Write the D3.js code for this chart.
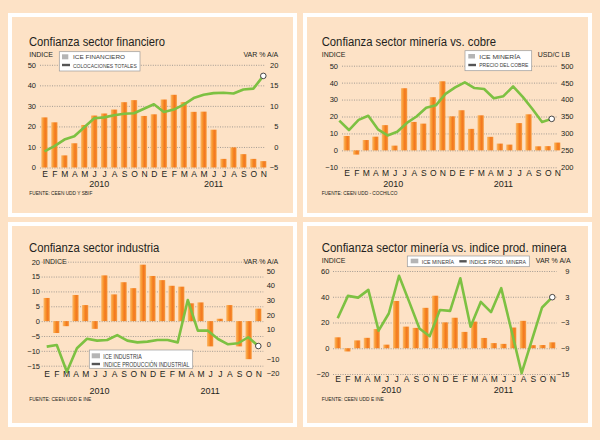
<!DOCTYPE html>
<html>
<head>
<meta charset="utf-8">
<script src="https://cdn.jsdelivr.net/npm/d3@7"></script>
<style>
  body { margin: 0; background: #fde2c6; }
  svg { display: block; font-family: "Liberation Sans", Arial, sans-serif; }
  .grid line { stroke: #7d7d7d; stroke-width: 0.7; stroke-dasharray: 1,1.4; }
  .grid .domain, .eje .domain { display: none; }
  .eje text { font-size: 7.5px; fill: #231f20; }
  .meses text { font-size: 8.5px; fill: #231f20; }
</style>
</head>
<body>
<svg id="chart" width="600" height="440"></svg>
<script>
// meses (ene 2010 - nov 2011)
var meses = ["E","F","M","A","M","J","J","A","S","O","N","D",
             "E","F","M","A","M","J","J","A","S","O","N"];
var anios = ["2010", "2011"];

// sector financiero
var iceFinanciero = [24.4, 22.0, 5.9, 11.8, 20.7, 25.3, 26.3, 28.2, 31.8, 32.8, 25.1, 25.9,
                     33.1, 35.4, 31.8, 27.1, 27.2, 18.4, 4.2, 9.8, 6.5, 4.2, 3.1];
var colocaciones = [-1.1, 0.2, 1.8, 2.6, 4.8, 7.0, 7.2, 7.7, 8.1, 8.2, 9.3, 10.4,
                    8.5, 9.1, 10.3, 11.9, 12.7, 13.1, 13.2, 13.0, 14.0, 14.2, 17.3];

// sector mineria
var iceMineria = [8.5, -2.5, 6.1, 8.1, 14.9, 2.8, 36.7, 16.8, 15.8, 31.4, 40.8, 20.1,
                  23.7, 12.7, 20.7, 8.0, 4.0, 3.4, 16.1, 21.3, 2.4, 2.5, 4.6];
var precioCobre = [338, 310, 340, 352, 312, 294, 305, 331, 350, 376, 383, 417,
                   436, 451, 434, 431, 404, 410, 439, 408, 372, 334, 343];

// sector industria (produccion: ene 2010 - oct 2011)
var iceIndustria = [7.8, -4.0, -1.7, 8.8, 5.4, -2.6, 15.4, 9.0, 13.1, 11.1, 19.0, 15.2,
                    13.8, 11.9, 11.6, 6.0, 6.3, -8.5, 0.8, 5.4, -8.5, -12.8, 4.2];
var prodIndustrial = [-1.8, -0.7, -18.9, -2.9, 3.6, 2.3, 2.7, 6.1, 2.3, 1.1, 1.6,
                      2.7, 2.7, 1.1, 30.0, 9.1, 9.1, 3.4, -0.2, 0.5, 4.6, -1.4];

// produccion minera (ene 2010 - oct 2011)
var prodMinera = [-2.0, 3.2, 2.8, 4.6, -4.9, -0.9, 7.9, 1.8, -4.4, -6.2, -0.1,
                  -0.3, 7.3, -4.0, 1.8, -0.6, 5.0, -4.8, -14.8, -7.1, 0.5, 2.9];

// ticks
var ticksFinIzq = [0, 10, 20, 30, 40, 50];
var ticksFinDer = [-5, 0, 5, 10, 15, 20];
var ticksMinIzq = [-10, 0, 10, 20, 30, 40, 50];
var ticksCobre = [200, 250, 300, 350, 400, 450, 500];
var ticksIndIzq = [-15, -10, -5, 0, 5, 10, 15, 20];
var ticksIndDer = [-20, -10, 0, 10, 20, 30, 40, 50];
var ticksMin2Izq = [-20, 0, 20, 40, 60];
var ticksMin2Der = [-15, -9, -3, 3, 9];


var svg = d3.select("#chart");

// degradado de las barras
var grad = svg.append("defs").append("linearGradient")
  .attr("id", "barra")
  .attr("x1", "0").attr("x2", "1").attr("y1", "0").attr("y2", "0");
[[0, "#fcb86c"], [0.35, "#f8952c"], [0.6, "#f37720"], [0.85, "#f58a2c"], [1, "#fab56c"]]
  .forEach(function(s){
    grad.append("stop").attr("offset", s[0]).attr("stop-color", s[1]);
  });

function panel(c) {
  var g = svg.append("g");

  g.append("rect")
    .attr("x", c.frame[0]).attr("y", c.frame[1])
    .attr("width", c.frame[2]).attr("height", c.frame[3])
    .attr("fill", "#fde2c6").attr("stroke", "#fff").attr("stroke-width", 4);

  g.append("text")
    .attr("x", c.title[0]).attr("y", c.title[1])
    .attr("textLength", c.title[2]).attr("lengthAdjust", "spacingAndGlyphs")
    .style("font-size", "12px").style("fill", "#231f20")
    .text(c.titulo);

  g.append("text")
    .attr("x", c.unidades[3] || c.unidades[0]).attr("y", c.unidades[2])
    .style("font-size", "7px").style("fill", "#231f20")
    .text("INDICE");
  g.append("text")
    .attr("x", c.unidades[1]).attr("y", c.unidades[2])
    .style("font-size", "7px").style("fill", "#231f20")
    .style("text-anchor", "end")
    .text(c.unidadDer);

  var yL = d3.scaleLinear().domain(c.domL).range(c.rangeL);
  var yR = d3.scaleLinear().domain(c.domR).range(c.rangeR || c.rangeL);
  var n = c.barras.length;
  var x = d3.scalePoint().domain(d3.range(n)).range(c.centros);
  var xl = d3.scalePoint().domain(d3.range(c.linea.length)).range(c.rangoLinea || c.centros);

  // grilla
  g.append("g")
    .attr("class", "grid")
    .attr("transform", "translate(" + c.grid[0] + ",0)")
    .call(d3.axisLeft(yL).tickValues(c.ticksL).tickSize(-(c.grid[1] - c.grid[0])).tickFormat(""));

  // ejes
  g.append("g")
    .attr("class", "eje")
    .attr("transform", "translate(" + c.lx + ",0)")
    .call(d3.axisLeft(yL).tickValues(c.ticksL).tickSize(0).tickPadding(0));

  var ejeDer = c.rAnchor === "start" ? d3.axisRight(yR) : d3.axisLeft(yR);
  g.append("g")
    .attr("class", "eje")
    .attr("transform", "translate(" + c.rx + ",0)")
    .call(ejeDer.tickValues(c.ticksR).tickSize(0).tickPadding(0));

  // barras
  var bw = 6.4;
  g.append("g").selectAll("rect")
    .data(c.barras)
    .enter().append("rect")
      .attr("x", function(d, i){ return x(i) - bw / 2; })
      .attr("y", function(d){ return yL(Math.max(0, d)); })
      .attr("width", bw)
      .attr("height", function(d){ return Math.abs(yL(d) - yL(0)); })
      .attr("fill", "url(#barra)");

  // linea
  var line = d3.line()
    .x(function(d, i){ return xl(i); })
    .y(function(d){ return yR(d); });

  g.append("path")
    .datum(c.linea)
    .attr("d", line)
    .attr("fill", "none")
    .attr("stroke", "#7dc142")
    .attr("stroke-width", 2.6)
    .attr("stroke-linejoin", "round");

  var ult = c.linea.length - 1;
  g.append("circle")
    .attr("cx", xl(ult)).attr("cy", yR(c.linea[ult]))
    .attr("r", 2.8)
    .attr("fill", "#fff").attr("stroke", "#333").attr("stroke-width", 0.9);

  // meses
  var ejeX = g.append("g")
    .attr("class", "meses")
    .attr("transform", "translate(0," + c.mesY + ")")
    .call(d3.axisBottom(x).tickSize(0).tickPadding(0).tickFormat(function(i){ return meses[i]; }));
  ejeX.select(".domain").remove();
  ejeX.selectAll("text").attr("y", 0).attr("dy", null);

  // anios
  [[0, 11], [12, n - 1]].forEach(function(r, k){
    g.append("text")
      .attr("x", (x(r[0]) + x(r[1])) / 2 + (c.anioDx || 0))
      .attr("y", c.anioY)
      .style("font-size", "9px").style("fill", "#231f20")
      .style("text-anchor", "middle")
      .text(anios[k]);
  });

  // fuente
  g.append("text")
    .attr("x", c.fuente[0]).attr("y", c.fuente[1])
    .attr("textLength", c.fuente[2]).attr("lengthAdjust", "spacingAndGlyphs")
    .style("font-size", "5.5px").style("fill", "#231f20")
    .text(c.fuenteTxt);

  // leyenda
  var L = c.leyenda;
  g.append("rect")
    .attr("x", L.box[0]).attr("y", L.box[1])
    .attr("width", L.box[2]).attr("height", L.box[3])
    .attr("fill", "#fff").attr("stroke", "#9a9a9a").attr("stroke-width", 0.7);
  g.append("rect")
    .attr("x", L.sq[0]).attr("y", L.sq[1]).attr("width", L.sq[2]).attr("height", L.sq[3])
    .attr("fill", "#b5b5b5");
  g.append("line")
    .attr("x1", L.ln[0]).attr("x2", L.ln[1]).attr("y1", L.ln[2]).attr("y2", L.ln[2])
    .attr("stroke", "#555").attr("stroke-width", 2.4);
  L.txt.forEach(function(t){
    g.append("text")
      .attr("x", t[0]).attr("y", t[1])
      .attr("textLength", t[2]).attr("lengthAdjust", "spacingAndGlyphs")
      .style("font-size", L.fs + "px").style("fill", "#3a3a3a")
      .text(t[3]);
  });
}

panel({
  frame: [10, 15, 285, 200],
  titulo: "Confianza sector financiero", title: [29, 45.7, 136],
  unidadDer: "VAR % A/A", unidades: [29.3, 278.3, 56.7],
  domL: [0, 50], rangeL: [167.5, 64.8], ticksL: ticksFinIzq,
  domR: [-5, 20], ticksR: ticksFinDer,
  grid: [40, 265], lx: 36, rx: 278.3, rAnchor: "end",
  centros: [44.5, 263.3],
  barras: iceFinanciero, linea: colocaciones,
  mesY: 177, anioY: 187.3,
  fuenteTxt: "FUENTE: CEEN UDD Y SBIF", fuente: [29.3, 194.6, 63],
  leyenda: {
    box: [59.3, 51.7, 80.7, 19.3], sq: [62, 54.3, 6.3, 5], ln: [62, 70, 65], fs: 6,
    txt: [[73, 59.2, 52, "ICE FINANCIERO"], [73, 67.6, 63.7, "COLOCACIONES TOTALES"]]
  }
});

panel({
  frame: [305, 15, 285, 200],
  titulo: "Confianza sector minería vs. cobre", title: [321.7, 45.7, 174.3],
  unidadDer: "USD/C LB", unidades: [321.7, 570, 56.7],
  domL: [-10, 50], rangeL: [167.3, 65.7], ticksL: ticksMinIzq,
  domR: [200, 500], ticksR: ticksCobre,
  grid: [342, 557], lx: 338, rx: 561, rAnchor: "start",
  centros: [346.7, 557.3], rangoLinea: [339.3, 551.7],
  barras: iceMineria, linea: precioCobre,
  mesY: 176, anioY: 187, anioDx: -6,
  fuenteTxt: "FUENTE: CEEN UDD - COCHILCO", fuente: [321.7, 194.6, 75.7],
  leyenda: {
    box: [465, 50.7, 66.7, 20], sq: [468.3, 54, 6.7, 4.5], ln: [468.3, 476, 65], fs: 6,
    txt: [[479.3, 58.6, 41.3, "ICE MINERÍA"], [479.3, 67.2, 49, "PRECIO DEL COBRE"]]
  }
});

panel({
  frame: [10, 224, 285, 201],
  titulo: "Confianza sector industria", title: [29, 251.7, 130.3],
  unidadDer: "VAR % A/A", unidades: [29.3, 278.3, 264.3, 43],
  domL: [-15, 20], rangeL: [365.7, 261.7], ticksL: ticksIndIzq,
  domR: [-20, 50], rangeR: [373.3, 270.7], ticksR: ticksIndDer,
  grid: [41.7, 263.3], lx: 40, rx: 266.7, rAnchor: "start",
  centros: [46.7, 258.3],
  barras: iceIndustria, linea: prodIndustrial,
  mesY: 376.8, anioY: 394,
  fuenteTxt: "FUENTE: CEEN UDD E INE", fuente: [29.3, 401, 62],
  leyenda: {
    box: [89.3, 350, 103.4, 18.3], sq: [91.7, 353.3, 8.3, 5], ln: [91.7, 100, 364], fs: 6.5,
    txt: [[103.3, 358.6, 38.4, "ICE INDUSTRIA"], [103.3, 366.7, 86, "INDICE PRODUCCIÓN INDUSTRIAL"]]
  }
});

panel({
  frame: [305, 224, 285, 201],
  titulo: "Confianza sector minería vs. indice prod. minera", title: [321.7, 251.7, 245],
  unidadDer: "VAR % A/A", unidades: [321.7, 570.7, 262.7],
  domL: [-20, 60], rangeL: [374, 271], ticksL: ticksMin2Izq,
  domR: [-15, 9], ticksR: ticksMin2Der,
  grid: [333, 556.7], lx: 329.3, rx: 569.5, rAnchor: "end",
  centros: [337.7, 552.3],
  barras: iceMineria, linea: prodMinera,
  mesY: 381.5, anioY: 392.5,
  fuenteTxt: "FUENTE: CEEN UDD E INE", fuente: [321.7, 400.8, 62],
  leyenda: {
    box: [407.3, 256, 122, 10.7], sq: [410.7, 258.7, 7.6, 4.6], ln: [459.3, 466.7, 261.3], fs: 6,
    txt: [[421.7, 263.8, 32.3, "ICE MINERÍA"], [469.3, 263.8, 56.7, "INDICE PROD. MINERA"]]
  }
});
</script>
</body>
</html>
